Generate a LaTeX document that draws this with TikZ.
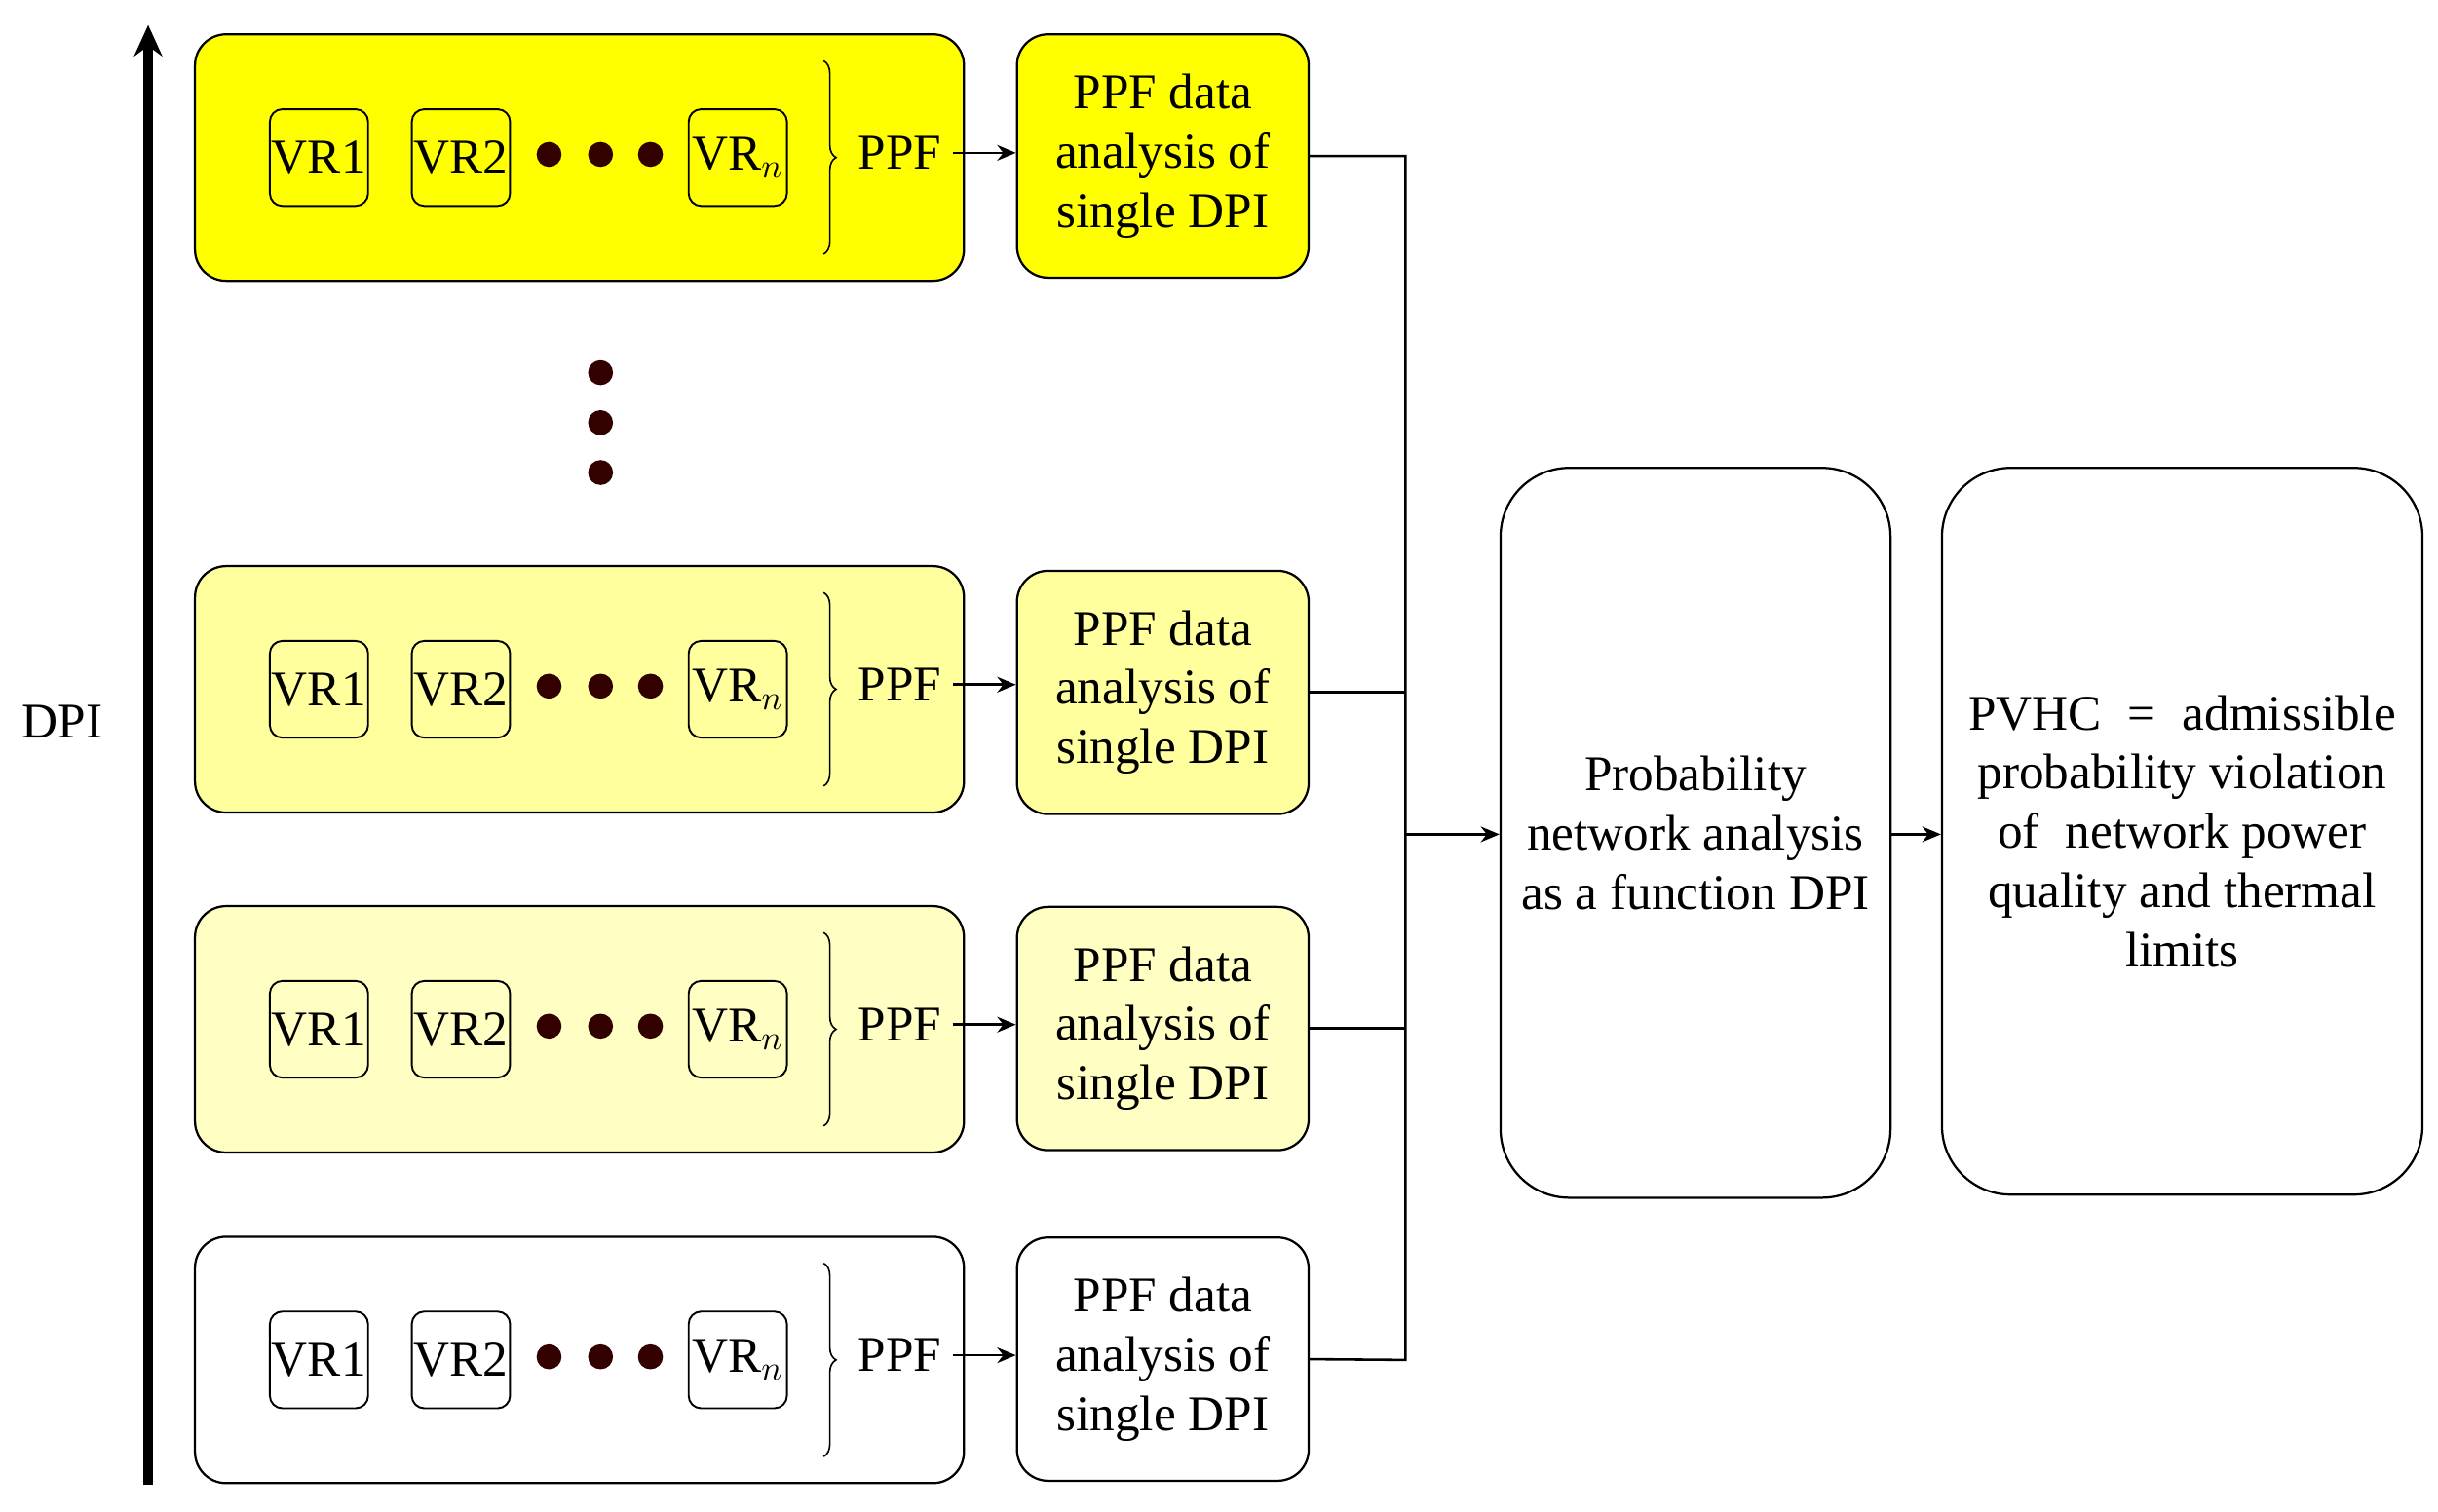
\documentclass[tikz,border=0pt]{standalone}
\usepackage{fontspec}
\setmainfont{Liberation Serif}
\usetikzlibrary{decorations.pathreplacing,arrows.meta}
\definecolor{y1}{HTML}{FFFF00}
\definecolor{y2}{HTML}{FFFF9E}
\definecolor{y3}{HTML}{FFFFC4}
\definecolor{dotc}{HTML}{330000}
\begin{document}
\begin{tikzpicture}[x=0.5pt,y=-0.5pt,
  every node/.style={font=\fontsize{16}{19}\selectfont},
  row/.style={draw,rounded corners=10pt,line width=0.7pt,minimum width=246.5pt,minimum height=79pt},
  vr/.style={draw,rounded corners=4pt,line width=0.6pt,minimum width=31.5pt,minimum height=31pt,inner sep=0pt},
  ana/.style={draw,rounded corners=10pt,line width=0.7pt,minimum width=93.5pt,minimum height=78pt,align=center,inner sep=1pt},
  big/.style={draw,rounded corners=22pt,line width=0.7pt,align=center,inner sep=1pt},
  dot/.style={circle,fill=dotc,inner sep=0pt,minimum size=8pt},
  arr/.style={-{Stealth[length=6pt,width=5pt]},line width=0.8pt},
  ln/.style={line width=0.8pt}]
\useasboundingbox (0,0) rectangle (1563,969);
\coordinate (a0) at (95,952);
\coordinate (a1) at (95,16);
\draw[line width=3pt,-{Stealth[length=10pt,width=9pt]}] (a0) -- (a1);
\node (dpi) at (40,463) {DPI};
\foreach \i/\y/\ay/\c in {1/101/100/y1,2/442/444/y2,3/660/659.5/y3,4/872/871.5/white}{
  \node[row,fill=\c] (r\i) at (371.5,\y) {};
  \node[vr] (v1\i) at (204.5,\y) {VR1};
  \node[vr] (v2\i) at (295.5,\y) {VR2};
  \node[vr] (vn\i) at (473,\y) {VR$_{n}$};
  \node[dot] (d1\i) at (352,\y-2) {};
  \node[dot] (d2\i) at (385,\y-2) {};
  \node[dot] (d3\i) at (417,\y-2) {};
  \coordinate (bt\i) at (528,\y-62);
  \coordinate (bb\i) at (528,\y+62);
  \draw[decorate,decoration={brace,amplitude=4pt},line width=0.5pt] (bt\i) -- (bb\i);
  \node (p\i) at (577,\y-3) {PPF};
  \node[ana,fill=\c] (an\i) at (745.5,\ay) {PPF data\\analysis of\\single DPI};
  \draw[arr] (p\i.east) -- (an\i.west |- p\i.east);
}
\node[dot] (vd1) at (385,239) {};
\node[dot] (vd2) at (385,271) {};
\node[dot] (vd3) at (385,303) {};
\node[big,minimum width=125pt,minimum height=234pt] (prob) at (1087,534) {Probability\\network analysis\\as a function DPI};
\node[big,minimum width=154pt,minimum height=233pt] (pv) at (1399,533) {PVHC \;=\; admissible\\probability violation\\of \;network power\\quality and thermal\\limits};
\coordinate (bus1) at (901,100);
\coordinate (bus4) at (901,872);
\coordinate (busm) at (901,535);
\draw[ln] (an1.east) -- (bus1) -- (bus4) -- (an4.east);
\draw[ln] (an2.east) -- (901,444);
\draw[ln] (an3.east) -- (901,659.5);
\draw[arr] (busm) -- (prob.west |- busm);
\draw[arr] (prob.east |- busm) -- (pv.west |- busm);
\end{tikzpicture}
\end{document}
